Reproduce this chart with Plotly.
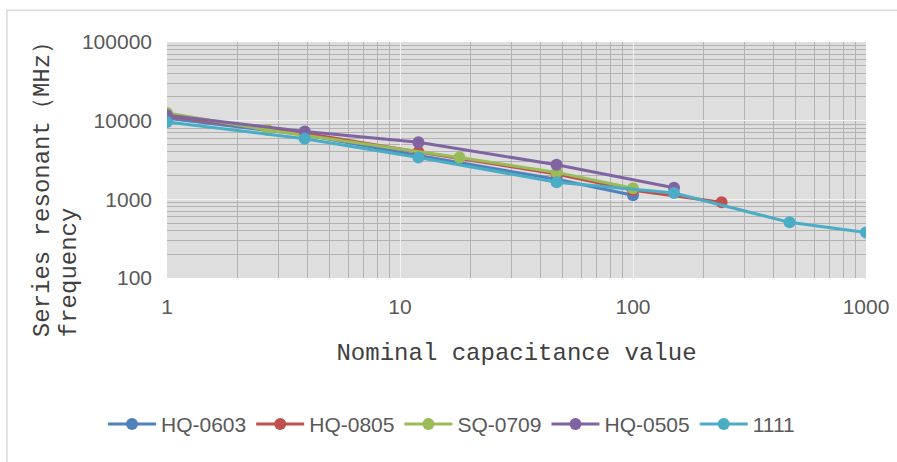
import plotly.graph_objects as go

# Data (log-log)
hq0603_x = [1, 3.9, 12, 47, 100]
hq0603_y = [10700, 6600, 3600, 1800, 1130]

hq0805_x = [1, 3.9, 12, 47, 100, 240]
hq0805_y = [11500, 6900, 4000, 2100, 1300, 920]

sq0709_x = [1, 2.7, 18, 47, 100]
sq0709_y = [12500, 7600, 3400, 2200, 1380]

hq0505_x = [1, 3.9, 12, 47, 150]
hq0505_y = [11700, 7300, 5300, 2750, 1400]

s1111_x = [1, 3.9, 12, 47, 150, 470, 1000]
s1111_y = [9600, 5900, 3400, 1650, 1200, 510, 380]

series = [
    ("HQ-0603", hq0603_x, hq0603_y, "#4F81BD"),
    ("HQ-0805", hq0805_x, hq0805_y, "#C0504D"),
    ("SQ-0709", sq0709_x, sq0709_y, "#9BBB59"),
    ("HQ-0505", hq0505_x, hq0505_y, "#8064A2"),
    ("1111", s1111_x, s1111_y, "#4BACC6"),
]

x_ticks = [1, 10, 100, 1000]
y_ticks = [100, 1000, 10000, 100000]
x_minor = [m * d for d in (1, 10, 100) for m in range(2, 10)]
y_minor = [m * d for d in (100, 1000, 10000) for m in range(2, 10)]

fig = go.Figure()
for name, xs, ys, col in series:
    fig.add_trace(go.Scatter(
        x=xs, y=ys, name=name, mode="lines+markers",
        line=dict(color=col, width=3),
        marker=dict(color=col, size=12),
    ))

tickfont = dict(family="Liberation Sans", size=21, color="#595959")
monofont = dict(family="Liberation Mono, DejaVu Sans Mono", size=24, color="#404040")
ymonofont = dict(family="Liberation Mono, DejaVu Sans Mono", size=24, color="#404040")

fig.update_layout(
    width=897, height=462,
    margin=dict(l=167, r=31, t=42, b=184, autoexpand=False),
    paper_bgcolor="white",
    plot_bgcolor="#dedede",
    showlegend=True,
    legend=dict(orientation="h", x=0.407, xanchor="center", y=-0.62, yanchor="middle",
                font=dict(family="Liberation Sans", size=21, color="#595959"),
                itemwidth=48, tracegroupgap=0),
    xaxis=dict(type="log", range=[0, 3], tickvals=x_ticks, ticktext=[str(v) for v in x_ticks],
               showgrid=True, gridcolor="#f2f2f2", gridwidth=1,
               minor=dict(tickvals=x_minor, showgrid=True, gridcolor="#b2b2b2", gridwidth=1),
               tickfont=tickfont, ticks="", zeroline=False, showline=False,
               ticklabelstandoff=14, automargin=False,
               title=dict(text="Nominal capacitance value", font=monofont, standoff=26)),
    yaxis=dict(type="log", range=[2, 5], tickvals=y_ticks, ticktext=[str(v) for v in y_ticks],
               showgrid=True, gridcolor="#f2f2f2", gridwidth=1,
               minor=dict(tickvals=y_minor, showgrid=True, gridcolor="#b2b2b2", gridwidth=1),
               tickfont=tickfont, ticks="", zeroline=False, showline=False,
               ticklabelstandoff=14, automargin=False),
    annotations=[
        dict(text="Series resonant（MHz）", textangle=-90, xref="paper", yref="paper",
             x=-0.177, y=-0.26, xanchor="center", yanchor="bottom", showarrow=False,
             font=ymonofont),
        dict(text="frequency", textangle=-90, xref="paper", yref="paper",
             x=-0.139, y=-0.26, xanchor="center", yanchor="bottom", showarrow=False,
             font=ymonofont),
    ],
    shapes=[
        dict(type="rect", xref="paper", yref="paper",
             x0=-0.229, x1=1.05, y0=-0.80, y1=1.135,
             line=dict(color="#d9d9d9", width=1.5), fillcolor="rgba(0,0,0,0)", layer="below"),
    ],
)

fig.write_html("out.html", config={"displayModeBar": False},
               post_script="document.body.style.margin='0';document.body.style.overflow='hidden';")
